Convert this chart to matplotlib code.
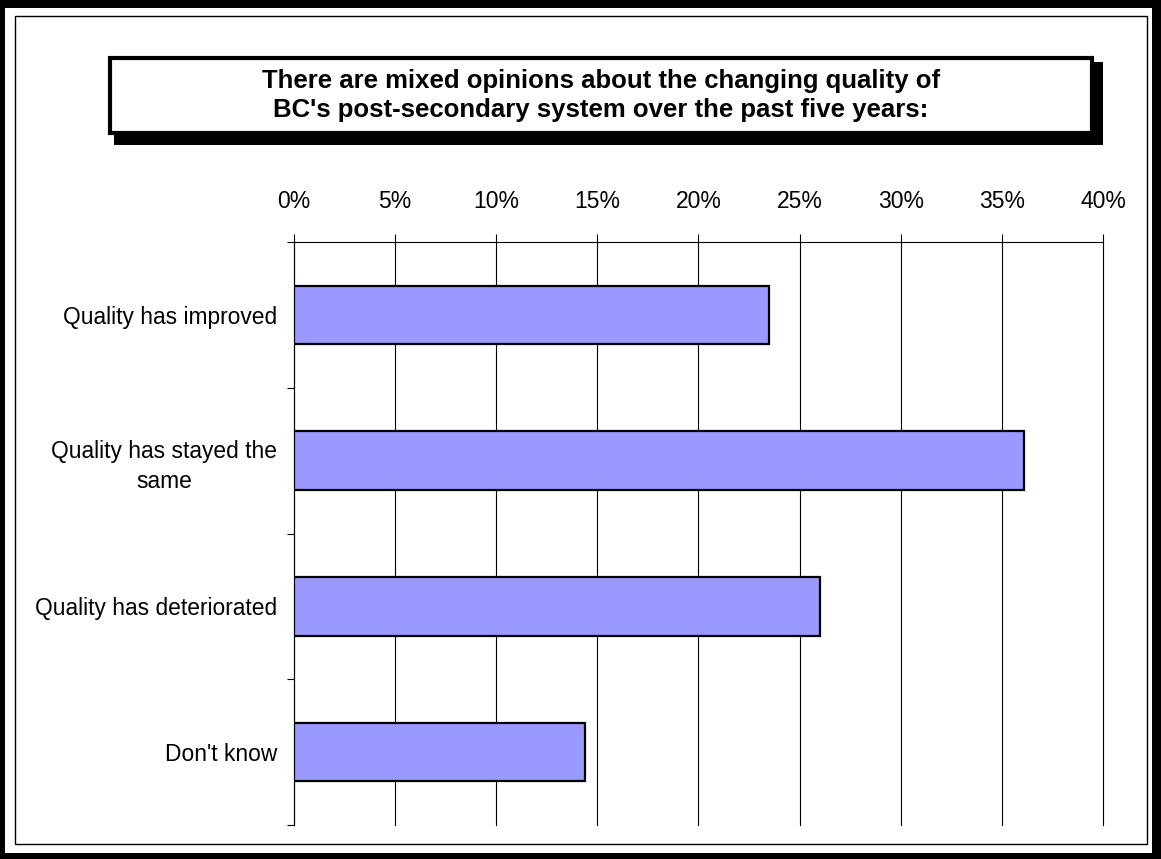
import numpy as np
import matplotlib.pyplot as plt
from matplotlib.patches import Rectangle
from matplotlib.ticker import FuncFormatter, FixedLocator

# data
categories = ['Quality has improved',
              'Quality has stayed the\nsame',
              'Quality has deteriorated',
              "Don't know"]
shares = [23.5, 36.1, 26.0, 14.4]
x_ticks = [0, 5, 10, 15, 20, 25, 30, 35, 40]
title = ("There are mixed opinions about the changing quality of\n"
         "BC's post-secondary system over the past five years:")

W, H = 1161, 859
plt.rcParams['font.family'] = ['Liberation Sans', 'DejaVu Sans']

fig = plt.figure(figsize=(W / 100, H / 100), dpi=100)


def px_rect(x0, y0, x1, y1, **kw):
    # rectangle given in pixel coords, origin top-left
    r = Rectangle((x0 / W, 1 - y1 / H), (x1 - x0) / W, (y1 - y0) / H,
                  transform=fig.transFigure, **kw)
    fig.patches.append(r)
    return r


# outer frame: thick black band + thin inner line
px_rect(0, 0, W, 8, facecolor='black', edgecolor='none')
px_rect(0, 0, 5, H, facecolor='black', edgecolor='none')
px_rect(W - 9, 0, W, H, facecolor='black', edgecolor='none')
px_rect(0, H - 6, W, H, facecolor='black', edgecolor='none')
px_rect(15, 16, 1147, 844, facecolor='none', edgecolor='black', linewidth=1.0)

# title box with drop shadow
px_rect(114, 62, 1103, 145, facecolor='black', edgecolor='none')
px_rect(110, 58, 1092, 133, facecolor='white', edgecolor='black', linewidth=3.0)
fig.text(601 / W, 1 - 95.5 / H, title, ha='center', va='center',
         fontsize=18.5, fontweight='bold', linespacing=1.3)

ax = fig.add_axes([294 / W, 1 - 825 / H, 809 / W, 583 / H])
y = np.arange(len(categories))
ax.barh(y, shares, height=0.4, color='#9999FF', edgecolor='black',
        linewidth=1.6, zorder=3)

ax.set_xlim(0, 40)
ax.set_ylim(len(categories) - 0.5, -0.5)

# x axis on top
ax.xaxis.tick_top()
ax.set_xticks(x_ticks)
ax.xaxis.set_major_formatter(FuncFormatter(lambda v, p: '%d%%' % v))
ax.tick_params(axis='x', direction='out', length=6, width=0.8,
               pad=15, labelsize=16.5)
ax.grid(axis='x', color='black', linewidth=0.8, zorder=0)
for gl in ax.get_xgridlines():
    gl.set_clip_on(False)

# category ticks between bars
ax.set_yticks(y)
ax.set_yticklabels(categories, multialignment='center', linespacing=1.4)
ax.yaxis.set_minor_locator(FixedLocator(np.arange(-0.5, len(categories), 1)))
ax.tick_params(axis='y', which='major', length=0, pad=12, labelsize=16.4)
ax.tick_params(axis='y', which='minor', direction='out', length=5, width=0.8)

for s in ['right', 'bottom']:
    ax.spines[s].set_visible(False)
for s in ['top', 'left']:
    ax.spines[s].set_linewidth(0.8)
ax.set_facecolor('white')

fig.savefig('out.png', dpi=100, facecolor='white')
